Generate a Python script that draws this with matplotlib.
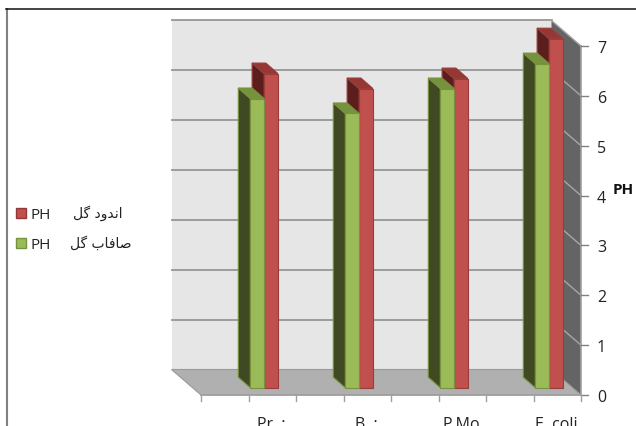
import matplotlib
matplotlib.use('Agg')
import matplotlib.pyplot as plt
from matplotlib.patches import Polygon, Rectangle

categories = ['Pr. :', 'B. :', 'P.Mo', 'E. coli']
ph_green = [5.8, 5.5, 6.0, 6.5]
ph_red = [6.3, 6.0, 6.2, 7.0]
yticks = [0, 1, 2, 3, 4, 5, 6, 7]

# arabic glyphs are given as presentation forms, matplotlib does not shape them
label_red = '\uFE8D\uFEE7\uFEAA\uFEED\uFEA9 \uFB94\uFEDE'[::-1]
label_green = '\uFEBB\uFE8E\uFED3\uFE8E\uFE8F \uFB94\uFEDE'[::-1]

W, H = 636, 427
UX, UY = 95.0, 49.86      # pixels per category / per ph unit
X0, Y0 = 201.0, 396.0     # pixel position of the front corner of the floor

# oblique offsets in data units
WALL_DX, WALL_DY = -29.5 / UX, 25.5 / UY
BAR_DX, BAR_DY = -12.0 / UX, 10.5 / UY
BASE_Y = 7.3 / UY
BAR_W = 13.8 / UX
BAR_SHIFT = 1.8 / UX

plt.rcParams['font.family'] = ['Open Sans', 'DejaVu Sans']

fig = plt.figure(figsize=(W / 100, H / 100), dpi=100)
ax = fig.add_axes([0, 0, 1, 1])
ax.set_xlim(-0.5 - X0 / UX, -0.5 + (W - X0) / UX)
ax.set_ylim(-(H - Y0) / UY, Y0 / UY)
ax.axis('off')

xl, xr = -0.5, 3.5
top = yticks[-1]


def px_x(p):
    return (p - X0) / UX - 0.5


def px_y(p):
    return (Y0 - p) / UY


# back wall, side wall, floor
ax.add_patch(Polygon([(xl + WALL_DX, WALL_DY), (xr + WALL_DX, WALL_DY),
                      (xr + WALL_DX, top + WALL_DY), (xl + WALL_DX, top + WALL_DY)],
                     fc='#e6e6e6', ec='none', zorder=1))
ax.add_patch(Polygon([(xr + WALL_DX, WALL_DY), (xr, 0), (xr, top), (xr + WALL_DX, top + WALL_DY)],
                     fc='#646464', ec='none', zorder=1))
ax.add_patch(Polygon([(xl, 0), (xr, 0), (xr + WALL_DX, WALL_DY), (xl + WALL_DX, WALL_DY)],
                     fc='#b0b0b0', ec='#9a9a9a', lw=0.8, zorder=1))

# gridlines on the walls
for v in yticks[1:]:
    ax.plot([xl + WALL_DX, xr + WALL_DX], [v + WALL_DY, v + WALL_DY], color='#969696', lw=1.3, zorder=2)
    ax.plot([xr + WALL_DX, xr], [v + WALL_DY, v], color='#a6a6a6', lw=1.0, zorder=2)

# axis lines and ticks
ax.plot([xr, xr], [0, top], color='#a0a0a0', lw=1.2, zorder=2)
ax.plot([xl, xr], [0, 0], color='#a0a0a0', lw=1.2, zorder=2)
for v in yticks:
    ax.plot([xr, xr + 7 / UX], [v, v], color='#808080', lw=1.0, zorder=2)
    ax.text(xr + 20.5 / UX, v, str(v), ha='center', va='center_baseline', fontsize=11.5, color='#222222')
for i in range(9):
    x = xl + i * 0.5
    ax.plot([x, x], [0, -6 / UY], color='#a0a0a0', lw=1.0, zorder=2)
for i, c in enumerate(categories):
    ax.text(i + 23 / UX, -33 / UY, c, ha='center', va='baseline', fontsize=11.5,
            color='#222222', clip_on=True)
ax.text(xr + 42.5 / UX, px_y(189), 'PH', ha='center', va='center_baseline', fontsize=11,
        fontweight='bold', color='#111111')


def draw_bar(x, val, front, side, roof, edge, z):
    b, t = BASE_Y, BASE_Y + val
    ax.add_patch(Polygon([(x, b), (x + BAR_DX, b + BAR_DY), (x + BAR_DX, t + BAR_DY), (x, t)],
                         fc=side, ec=edge, lw=0.8, zorder=z))
    ax.add_patch(Polygon([(x, t), (x + BAR_DX, t + BAR_DY), (x + BAR_W + BAR_DX, t + BAR_DY), (x + BAR_W, t)],
                         fc=roof, ec=edge, lw=0.8, zorder=z))
    ax.add_patch(Rectangle((x, b), BAR_W, val, fc=front, ec=edge, lw=0.8, zorder=z + 0.1))


for i in range(len(categories)):
    x = i + BAR_SHIFT
    draw_bar(x + BAR_W, ph_red[i], '#c0504d', '#5a1f1d', '#953735', '#9a3d3a', 3)
    draw_bar(x, ph_green[i], '#9bbb59', '#3f4a22', '#76923c', '#76923c', 4)

# legend
for y_px, col, edge, lab, lab_x in [(214, '#c0504d', '#953735', label_red, 122),
                                    (244, '#9bbb59', '#76923c', label_green, 132)]:
    yv = px_y(y_px)
    ax.add_patch(Rectangle((px_x(16), yv - 5 / UY), 10 / UX, 10 / UY, fc=col, ec=edge, lw=1.0))
    ax.text(px_x(30), yv, 'PH', ha='left', va='center_baseline', fontsize=11, color='#222222')
    ax.text(px_x(lab_x), yv + 1 / UY, lab, ha='right', va='center', fontsize=10,
            color='#222222', family='DejaVu Sans')

# chart frame
ax.plot([px_x(6.5), px_x(6.5)], [px_y(10), px_y(H)], color='#808080', lw=1.5, zorder=6)
ax.plot([px_x(6), px_x(W)], [px_y(10), px_y(10)], color='#111111', lw=1.1, zorder=6)

fig.savefig('out.png', dpi=100)
